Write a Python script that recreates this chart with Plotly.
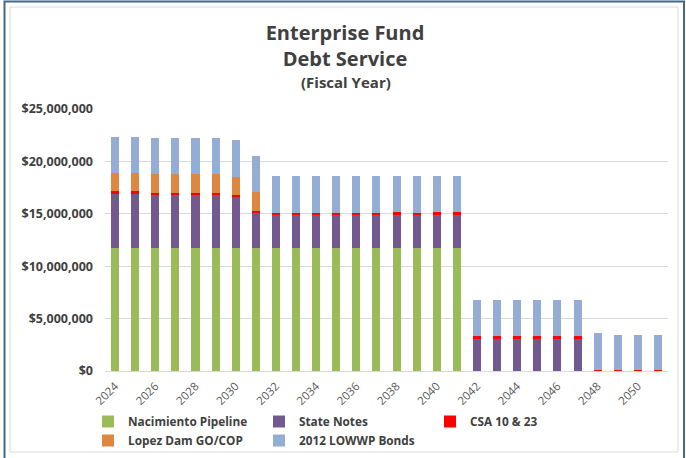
import plotly.graph_objects as go

# Fiscal years on the x axis
years = list(range(2024, 2052))

# Annual debt service by obligation (USD)
nacimiento_pipeline = [
    11780000, 11780000, 11780000, 11780000, 11780000, 11780000, 11780000,
    11780000, 11780000, 11780000, 11780000, 11780000, 11780000, 11780000,
    11780000, 11780000, 11780000, 11780000, 0, 0, 0, 0, 0, 0, 0, 0, 0, 0,
]
state_notes = [
    5070000, 5070000, 5000000, 5000000, 5040000, 5040000, 4780000,
    3250000, 3120000, 3120000, 3120000, 3120000, 3120000, 3120000,
    3120000, 3120000, 3120000, 3120000, 3090000, 3090000, 3090000,
    3090000, 3090000, 3090000, 0, 0, 0, 0,
]
csa_10_23 = [
    290000, 290000, 250000, 250000, 130000, 130000, 220000,
    260000, 190000, 190000, 190000, 190000, 190000, 190000,
    290000, 190000, 290000, 290000, 220000, 220000, 220000,
    220000, 220000, 220000, 130000, 60000, 60000, 60000,
]
lopez_dam = [
    1750000, 1750000, 1750000, 1750000, 1850000, 1850000, 1760000,
    1750000, 0, 0, 0, 0, 0, 0, 0, 0, 0, 0,
    0, 0, 0, 0, 0, 0, 0, 0, 0, 0,
]
lowwp_2012 = [
    3470000, 3470000, 3470000, 3470000, 3470000, 3470000, 3530000,
    3470000, 3530000, 3530000, 3530000, 3530000, 3530000, 3530000,
    3430000, 3530000, 3430000, 3430000, 3440000, 3440000, 3440000,
    3440000, 3440000, 3440000, 3530000, 3410000, 3410000, 3410000,
]

series = [
    ("Nacimiento Pipeline", nacimiento_pipeline, "#9BBB59"),
    ("State Notes", state_notes, "#725A91"),
    ("CSA 10 & 23", csa_10_23, "#FF0000"),
    ("Lopez Dam GO/COP", lopez_dam, "#DE8741"),
    ("2012 LOWWP Bonds", lowwp_2012, "#95ADD4"),
]

W, H = 686, 458
L, R, T, B = 105, 18, 109, 87
PW, PH = W - L - R, H - T - B


def px_x(px):
    return (px - L) / PW


def px_y(py):
    return (H - B - py) / PH


fig = go.Figure()
for name, vals, color in series:
    fig.add_trace(go.Bar(
        x=years, y=vals, name=name,
        marker=dict(color=color, line=dict(width=0)),
        hovertemplate="%{x}: %{y:$,.0f}<extra>" + name + "</extra>",
    ))

font_family = "Open Sans, Noto Sans, sans-serif"

fig.update_layout(
    width=W, height=H,
    margin=dict(l=L, r=R, t=T, b=B, autoexpand=False),
    barmode="stack",
    bargap=0.6,
    paper_bgcolor="white",
    plot_bgcolor="white",
    font=dict(family=font_family, color="#404040"),
    title=dict(
        text="Enterprise Fund<br>Debt Service",
        x=345 / W, xanchor="center", xref="container",
        y=1 - 40 / H, yanchor="top", yref="container",
        font=dict(size=20, weight="bold", color="#404040"),
    ),
    annotations=[
        dict(text="(Fiscal Year)", xref="paper", yref="paper",
             x=px_x(346), y=px_y(82), xanchor="center", yanchor="middle",
             showarrow=False,
             font=dict(size=15, weight="bold", color="#404040")),
    ],
    xaxis=dict(
        range=[2023.5, 2051.5],
        tickmode="linear", tick0=2024, dtick=2,
        tickangle=-45,
        tickfont=dict(size=11.5, color="#595959"),
        ticklabelstandoff=3,
        showgrid=False, zeroline=False,
        showline=True, linecolor="#D9D9D9", linewidth=1,
        ticks="",
    ),
    yaxis=dict(
        range=[0, 25000000],
        tickmode="array",
        tickvals=[0, 5000000, 10000000, 15000000, 20000000, 25000000],
        tickformat="$,.0f",
        tickfont=dict(size=12.5, weight="bold", color="#404040"),
        ticklabelstandoff=11,
        showgrid=True, gridcolor="#D9D9D9", gridwidth=1,
        zeroline=False, ticks="",
    ),
    legend=dict(
        orientation="h",
        traceorder="normal",
        x=px_x(88), xanchor="left",
        y=px_y(407), yanchor="top",
        entrywidthmode="pixels", entrywidth=126,
        font=dict(size=11.8, weight="bold", color="#404040"),
        bgcolor="rgba(0,0,0,0)",
    ),
    shapes=[
        # light inner frame of the chart area
        dict(type="rect", xref="paper", yref="paper",
             x0=px_x(10), x1=px_x(678), y0=px_y(452), y1=px_y(7),
             line=dict(color="#D9D9D9", width=1), layer="below"),
        # outer frame
        dict(type="rect", xref="paper", yref="paper",
             x0=px_x(4.5), x1=px_x(684), y0=px_y(462), y1=px_y(1.5),
             line=dict(color="#44678C", width=2), layer="below"),
    ],
)

fig.write_html("out.html")
